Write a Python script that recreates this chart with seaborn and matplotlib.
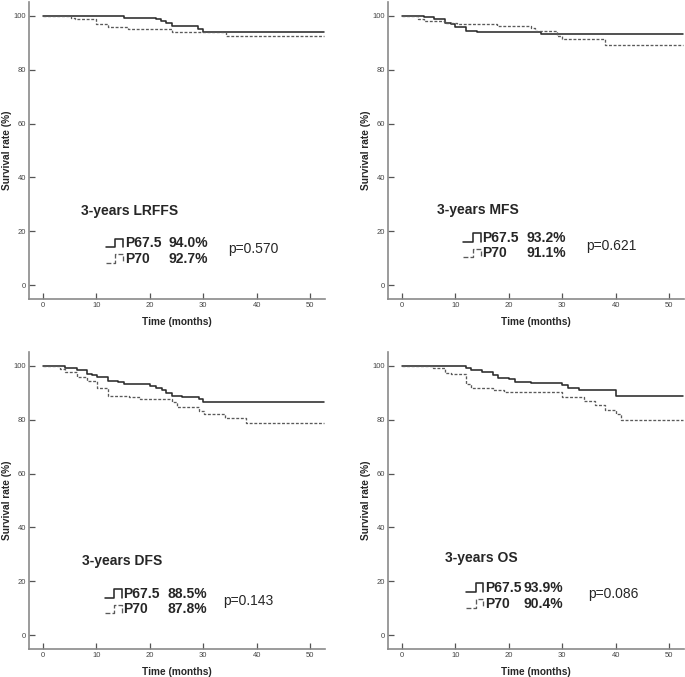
import numpy as np
import pandas as pd
import matplotlib
matplotlib.use("Agg")
import matplotlib.pyplot as plt
import seaborn as sns
from matplotlib.lines import Line2D
from matplotlib.legend_handler import HandlerBase

# ---------------- data ----------------
groups = ["P67.5", "P70"]

lrffs_t_a = [0, 15.1, 21.1, 22.1, 23.0, 24.1, 29.0, 29.9, 52.7]
lrffs_s_a = [100, 99.4, 98.9, 98.3, 97.5, 96.3, 95.1, 94.0, 94.0]
lrffs_t_b = [0, 5.2, 6.1, 10.0, 12.2, 15.9, 24.1, 34.2, 52.7]
lrffs_s_b = [100, 99.4, 98.8, 96.9, 96.0, 95.1, 94.1, 92.7, 92.7]

mfs_t_a = [0, 4.1, 6.1, 8.0, 9.1, 10.0, 12.0, 14.1, 26.1, 52.6]
mfs_s_a = [100, 99.5, 98.9, 97.5, 97.0, 96.0, 94.6, 94.0, 93.2, 93.2]
mfs_t_b = [0, 3.0, 4.1, 8.0, 10.3, 17.8, 24.1, 25.0, 29.1, 30.0, 38.0, 52.6]
mfs_s_b = [100, 98.9, 98.3, 97.5, 97.0, 96.4, 95.4, 94.6, 92.6, 91.4, 89.3, 89.3]

dfs_t_a = [0, 4.1, 6.3, 8.3, 9.1, 10.2, 12.2, 14.1, 15.1, 20.1, 21.1, 22.2, 23.1,
           24.2, 26.0, 29.2, 29.9, 52.7]
dfs_s_a = [100, 99.4, 98.5, 97.2, 96.6, 95.8, 94.5, 93.9, 93.3, 92.5, 91.8, 91.0,
           89.8, 89.0, 88.3, 87.7, 86.7, 86.7]
dfs_t_b = [0, 3.2, 4.2, 6.3, 8.3, 10.2, 12.2, 16.1, 18.1, 24.1, 25.1, 29.2, 30.1,
           34.0, 38.1, 52.7]
dfs_s_b = [100, 98.8, 97.9, 96.0, 94.5, 91.8, 89.0, 88.3, 87.7, 86.5, 84.9, 83.1,
           82.0, 80.6, 78.8, 78.8]

os_t_a = [0, 12.0, 13.0, 15.0, 17.0, 18.0, 20.0, 21.1, 24.1, 30.0, 31.1, 33.1, 40.0, 52.7]
os_s_a = [100, 99.4, 98.5, 97.8, 96.6, 95.7, 95.1, 94.2, 93.6, 93.0, 92.0, 91.0, 88.9, 88.9]
os_t_b = [0, 5.9, 8.0, 9.1, 12.0, 13.0, 17.0, 19.1, 30.0, 34.1, 36.1, 38.1, 40.1, 41.1, 52.7]
os_s_b = [100, 99.4, 97.5, 96.9, 93.3, 91.8, 91.2, 90.4, 88.6, 87.1, 85.6, 83.8, 82.2, 80.0, 80.0]

titles = ["3-years LRFFS", "3-years MFS", "3-years DFS", "3-years OS"]
pct_a = ["94.0%", "93.2%", "88.5%", "93.9%"]
pct_b = ["92.7%", "91.1%", "87.8%", "90.4%"]
pvals = ["p=0.570", "p=0.621", "p=0.143", "p=0.086"]
x_ticks = [0, 10, 20, 30, 40, 50]
y_ticks = [0, 20, 40, 60, 80, 100]

curves = [
    (lrffs_t_a, lrffs_s_a, lrffs_t_b, lrffs_s_b),
    (mfs_t_a, mfs_s_a, mfs_t_b, mfs_s_b),
    (dfs_t_a, dfs_s_a, dfs_t_b, dfs_s_b),
    (os_t_a, os_s_a, os_t_b, os_s_b),
]

# ---------------- styling ----------------
sns.set_style("ticks")
plt.rcParams["font.family"] = ["Liberation Sans", "DejaVu Sans"]

colors = {"P67.5": "#2b2b2b", "P70": "#5a5a5a"}
dash_map = {"P67.5": "", "P70": (2.2, 1.3)}
lw_map = {"P67.5": 1.15, "P70": 0.95}


class StepHandler(HandlerBase):
    def create_artists(self, legend, orig_handle, xdescent, ydescent,
                       width, height, fontsize, trans):
        x0, y0 = -xdescent, -ydescent
        xm = x0 + width * 0.55
        xs = [x0, xm, xm, x0 + width, x0 + width]
        lo, hi = y0 + height * 0.05, y0 + height * 0.85
        ys = [lo, lo, hi, hi, lo]
        ln = Line2D(xs, ys, color=orig_handle.get_color(),
                    linestyle=orig_handle.get_linestyle(),
                    linewidth=orig_handle.get_linewidth())
        ln.set_transform(trans)
        return [ln]


fig = plt.figure(figsize=(6.85, 6.77), dpi=100)
W, H = 685.0, 677.0
# axes rectangles in pixels: left, top, right, bottom
rects = [(29, 2, 325, 299), (388, 2, 684, 299),
         (29, 352, 325, 649), (388, 352, 684, 649)]

# text layout (data coords): title xy, legend left x, row mid y, pct x, p xy
layout = [
    dict(title=(7.2, 27.6), leg=(11.8, 12.6), pct=23.6, p=(34.6, 13.3)),
    dict(title=(6.6, 27.9), leg=(11.5, 14.7), pct=23.4, p=(34.5, 14.5)),
    dict(title=(7.3, 27.6), leg=(11.6, 12.5), pct=23.4, p=(33.8, 12.6)),
    dict(title=(8.1, 28.8), leg=(12.0, 14.6), pct=22.8, p=(34.9, 15.4)),
]

axes = []
for i, (l, t, r, b) in enumerate(rects):
    ax = fig.add_axes([l / W, 1 - b / H, (r - l) / W, (b - t) / H])
    ta, sa, tb, sb = curves[i]
    df = pd.DataFrame({
        "time": list(ta) + list(tb),
        "surv": list(sa) + list(sb),
        "group": [groups[0]] * len(ta) + [groups[1]] * len(tb),
    })
    for g in groups:
        sub = df[df["group"] == g]
        sns.lineplot(data=sub, x="time", y="surv", ax=ax, color=colors[g],
                     estimator=None, sort=True, drawstyle="steps-post",
                     dashes=False, linewidth=lw_map[g], legend=False,
                     **({} if dash_map[g] == "" else {"linestyle": (0, dash_map[g])}))
    ax.set_xlim(-2.6, 52.8)
    ax.set_ylim(-5.2, 105.2)
    ax.set_xticks(x_ticks)
    ax.set_yticks(y_ticks)
    sns.despine(ax=ax)
    for s in ["left", "bottom"]:
        ax.spines[s].set_color("#8a8a8a")
        ax.spines[s].set_linewidth(1.2)
    ax.tick_params(direction="in", length=4, width=0.9, color="#555555",
                   labelsize=5.5, labelcolor="#444444", pad=2)
    ax.set_xlabel("Time (months)", fontsize=7.3, fontweight="bold")
    ax.set_ylabel("Survival rate (%)", fontsize=7.3, fontweight="bold")
    ax.xaxis.label.set_va("center")
    ax.yaxis.label.set_va("center")
    ax.xaxis.set_label_coords(0.5, -0.0764)
    ax.yaxis.set_label_coords(-0.075, 0.5)

    lay = layout[i]
    ax.text(lay["title"][0], lay["title"][1], titles[i], fontsize=10,
            fontweight="bold", ha="left", va="center")
    handles = [Line2D([], [], color=colors[g], linewidth=lw_map[g],
                      linestyle="-" if dash_map[g] == "" else (0, dash_map[g]))
               for g in groups]
    leg = ax.legend(handles, groups, loc="center left",
                    bbox_to_anchor=lay["leg"], bbox_transform=ax.transData,
                    frameon=False, borderpad=0, borderaxespad=0,
                    handlelength=1.25, handleheight=0.8, handletextpad=0.1,
                    labelspacing=0.12,
                    handler_map={Line2D: StepHandler()},
                    prop={"size": 10, "weight": "bold"})
    ax.text(lay["p"][0], lay["p"][1], pvals[i], fontsize=10, ha="left", va="center")
    axes.append((ax, leg, i))

fig.canvas.draw()
for ax, leg, i in axes:
    inv = ax.transData.inverted()
    for txt, pct in zip(leg.get_texts(), [pct_a[i], pct_b[i]]):
        bb = txt.get_window_extent()
        ycen = inv.transform((0, (bb.y0 + bb.y1) / 2))[1]
        ax.text(layout[i]["pct"], ycen, pct, fontsize=10, fontweight="bold",
                ha="left", va="center")

fig.savefig("out.png", dpi=100)
